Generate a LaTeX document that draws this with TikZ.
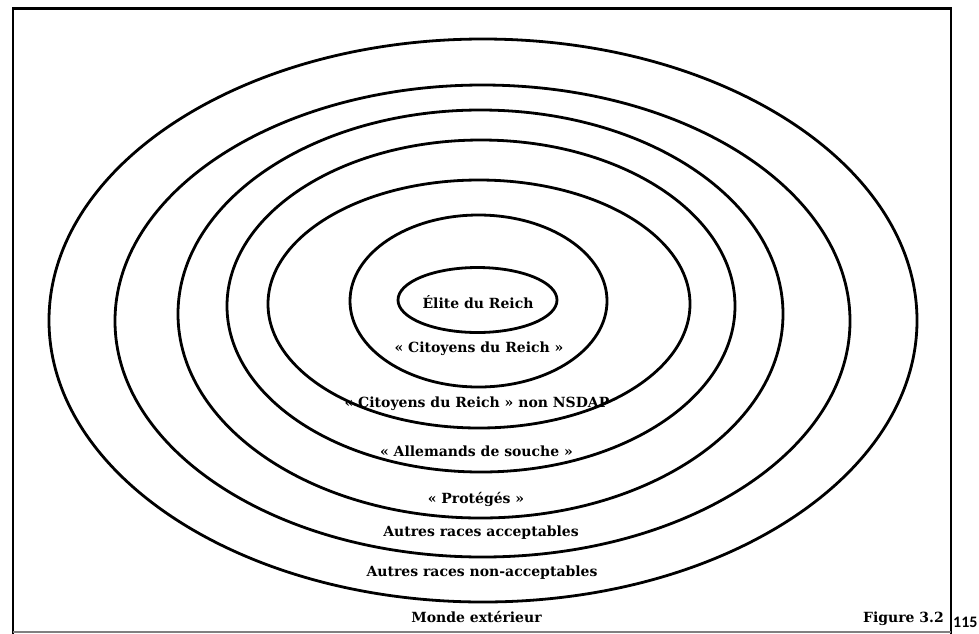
\documentclass[tikz,border=0pt]{standalone}
\usepackage{fontspec}
\setmainfont{DejaVu Serif}
\newfontfamily\numfont{Carlito}
\tikzset{
  ring/.style={draw=black, line width=2.8pt},
  lbl/.style={inner sep=0pt, font=\fontsize{14}{16}\selectfont\bfseries},
  frame/.style={draw=black, line width=2.8pt},
}
\begin{document}
\begin{tikzpicture}[x=1pt,y=-1pt]
\useasboundingbox (0,0) rectangle (979,633);
% frame
\draw[frame] (13,634) -- (13,8.5) -- (951,8.5) -- (951,634);
\draw[gray, line width=1.2pt] (13,632) -- (951,632);
% rings
\draw[ring] (483,320.5) ellipse [x radius=434pt, y radius=281.5pt];
\draw[ring] (482.5,321) ellipse [x radius=367.5pt, y radius=236pt];
\draw[ring] (480.5,314) ellipse [x radius=302.5pt, y radius=204pt];
\draw[ring] (481,306) ellipse [x radius=254pt, y radius=166pt];
\draw[ring] (479,304) ellipse [x radius=211pt, y radius=124pt];
\draw[ring] (478.5,301) ellipse [x radius=128.5pt, y radius=86pt];
\draw[ring] (477.5,300) ellipse [x radius=79.5pt, y radius=32.5pt];
% labels
\node[lbl] (elite) at (478,302) {Élite du Reich};
\node[lbl] (cit) at (479,349) {« Citoyens du Reich »};
\node[lbl] (nonnsdap) at (477,404) {« Citoyens du Reich » non NSDAP};
\node[lbl] (allem) at (476.5,451) {« Allemands de souche »};
\node[lbl] (prot) at (476,499) {« Protégés »};
\node[lbl] (acc) at (481,533) {Autres races acceptables};
\node[lbl] (nonacc) at (482,573) {Autres races non-acceptables};
\node[lbl] (monde) at (476.5,617) {Monde extérieur};
\node[lbl, anchor=east] (fig) at (944,619) {Figure 3.2};
\node[inner sep=0pt, anchor=west, font=\numfont\fontsize{16}{18}\selectfont\bfseries] (page) at (953,622) {115};
\end{tikzpicture}
\end{document}
